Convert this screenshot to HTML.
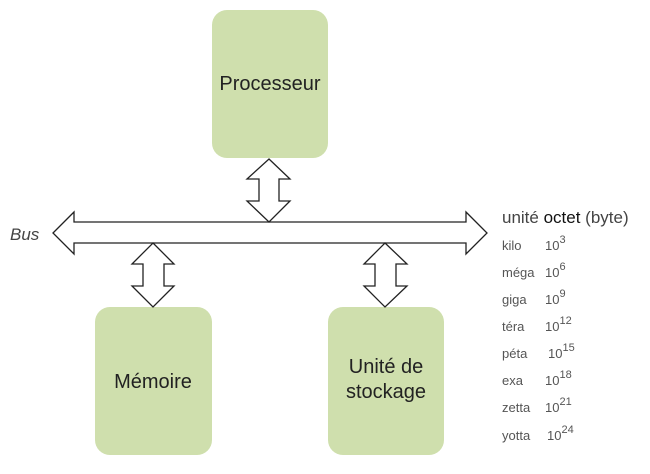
<!DOCTYPE html>
<html><head><meta charset="utf-8"><style>
body{margin:0;background:#fff;}
svg text{font-family:"Liberation Sans",sans-serif;}
</style></head><body>
<svg width="650" height="469" viewBox="0 0 650 469" xmlns="http://www.w3.org/2000/svg">
<rect x="212" y="10" width="116" height="148" rx="15" fill="#cfdfad"/>
<rect x="95" y="307" width="117" height="148" rx="15" fill="#cfdfad"/>
<rect x="328" y="307" width="116" height="148" rx="15" fill="#cfdfad"/>
<text x="270" y="90" font-size="20" text-anchor="middle" fill="#222">Processeur</text>
<text x="153" y="388" font-size="20" text-anchor="middle" fill="#222">Mémoire</text>
<text x="386" y="373" font-size="20" text-anchor="middle" fill="#222">Unité de</text>
<text x="386" y="398" font-size="20" text-anchor="middle" fill="#222">stockage</text>
<g fill="#fff" stroke="#222" stroke-width="1.3">
<polygon points="53,233 74,212 74,222 466,222 466,212 487,233 466,254 466,243 74,243 74,254"/>
<polygon points="269,159 290,179 279,179 279,201 290,201 269,222 247,201 259,201 259,179 247,179"/>
<polygon points="153,243 174,264 164,264 164,286 174,286 153,307 132,286 143,286 143,264 132,264"/>
<polygon points="385,243 407,264 396,264 396,286 407,286 385,307 364,286 375,286 375,264 364,264"/>
</g>
<text x="10" y="240" font-size="17" font-style="italic" fill="#444">Bus</text>
<text x="502" y="223" font-size="17" fill="#444">unité <tspan fill="#111">octet</tspan> (byte)</text>
<g font-size="13" fill="#555">
<text x="502" y="250">kilo</text><text x="545" y="250">10<tspan dy="-7" font-size="11">3</tspan></text>
<text x="502" y="277">méga</text><text x="545" y="277">10<tspan dy="-7" font-size="11">6</tspan></text>
<text x="502" y="304">giga</text><text x="545" y="304">10<tspan dy="-7" font-size="11">9</tspan></text>
<text x="502" y="331">téra</text><text x="545" y="331">10<tspan dy="-7" font-size="11">12</tspan></text>
<text x="502" y="358">péta</text><text x="548" y="358">10<tspan dy="-7" font-size="11">15</tspan></text>
<text x="502" y="385">exa</text><text x="545" y="385">10<tspan dy="-7" font-size="11">18</tspan></text>
<text x="502" y="412">zetta</text><text x="545" y="412">10<tspan dy="-7" font-size="11">21</tspan></text>
<text x="502" y="440">yotta</text><text x="547" y="440">10<tspan dy="-7" font-size="11">24</tspan></text>
</g>
</svg>
</body></html>
